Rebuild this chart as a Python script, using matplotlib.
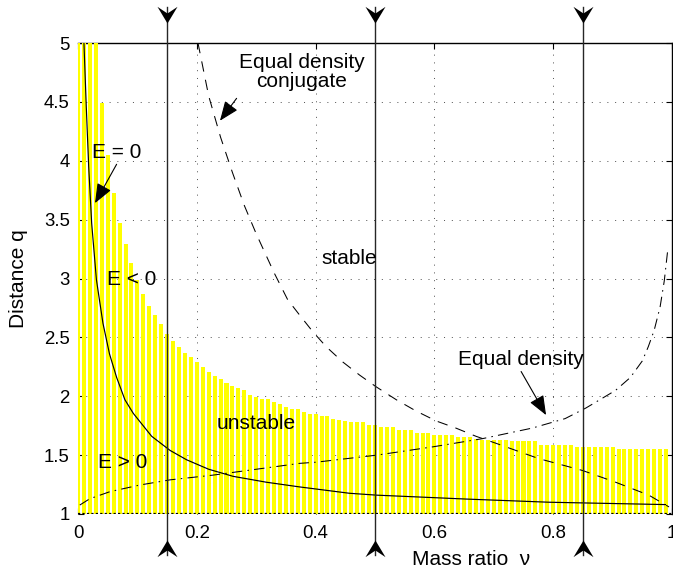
import numpy as np
import matplotlib
matplotlib.use("Agg")
import matplotlib.pyplot as plt
from matplotlib.path import Path

plt.rcParams['font.family'] = ['Liberation Sans', 'DejaVu Sans']

# bar heights (instability region), one bar every 0.01 in mass ratio
bar_nu = [k * 0.01 for k in range(100)]
bar_q = [5.0, 5.0, 5.0, 5.0, 4.49, 4.05, 3.73, 3.47, 3.29, 3.13,
         2.99, 2.87, 2.77, 2.69, 2.61, 2.53, 2.47, 2.42, 2.37, 2.33,
         2.29, 2.25, 2.21, 2.17, 2.15, 2.11, 2.09, 2.07, 2.05, 2.01,
         1.99, 1.98, 1.98, 1.95, 1.93, 1.91, 1.89, 1.89, 1.87, 1.85,
         1.85, 1.83, 1.83, 1.81, 1.80, 1.79, 1.78, 1.78, 1.78, 1.76,
         1.76, 1.74, 1.74, 1.74, 1.71, 1.71, 1.71, 1.69, 1.69, 1.69,
         1.67, 1.67, 1.67, 1.67, 1.65, 1.65, 1.65, 1.64, 1.63, 1.63,
         1.63, 1.63, 1.63, 1.62, 1.62, 1.62, 1.62, 1.62, 1.59, 1.59,
         1.59, 1.59, 1.59, 1.59, 1.57, 1.57, 1.57, 1.57, 1.57, 1.57,
         1.57, 1.55, 1.55, 1.55, 1.55, 1.55, 1.55, 1.55, 1.55, 1.55]

# E = 0 curve
e0_nu = [0.010, 0.014, 0.018, 0.023, 0.031, 0.042, 0.053, 0.065, 0.079, 0.093,
         0.124, 0.155, 0.183, 0.22, 0.261, 0.317, 0.373, 0.457, 0.503, 0.653,
         0.793, 0.989]
e0_q = [5.0, 4.45, 3.95, 3.47, 2.99, 2.62, 2.36, 2.16, 1.97, 1.855,
        1.66, 1.54, 1.46, 1.38, 1.32, 1.27, 1.23, 1.176, 1.16, 1.127,
        1.10, 1.08]

# equal density conjugate (dashed)
conj_nu = [0.202, 0.22, 0.24, 0.26, 0.28, 0.30, 0.33, 0.353, 0.373, 0.395,
           0.418, 0.446, 0.474, 0.502, 0.536, 0.569, 0.603, 0.636, 0.67,
           0.704, 0.737, 0.776, 0.849, 0.905, 0.961, 0.995]
conj_q = [5.0, 4.55, 4.2, 3.9, 3.62, 3.38, 3.05, 2.82, 2.69, 2.55,
          2.42, 2.29, 2.18, 2.08, 1.97, 1.875, 1.79, 1.73, 1.66,
          1.60, 1.54, 1.47, 1.37, 1.27, 1.16, 1.06]

# equal density (dash-dot)
eq_nu = [0.003, 0.02, 0.054, 0.104, 0.155, 0.227, 0.30, 0.373, 0.401, 0.503,
         0.597, 0.681, 0.765, 0.82, 0.855, 0.905, 0.93, 0.95, 0.96, 0.97,
         0.98, 0.987, 0.993]
eq_q = [1.076, 1.13, 1.19, 1.246, 1.29, 1.33, 1.38, 1.43, 1.44, 1.50,
        1.57, 1.64, 1.73, 1.81, 1.90, 2.05, 2.16, 2.30, 2.42, 2.56,
        2.76, 2.98, 3.25]

cuts = [0.15, 0.5, 0.85]

fig = plt.figure(figsize=(6.73, 5.71), dpi=100)
ax = fig.add_axes([78 / 673, 57 / 571, 594 / 673, 471 / 571])

ax.bar(bar_nu, [h - 1 for h in bar_q], bottom=1, width=0.0068,
       color=(1, 1, 0), linewidth=0, zorder=3)

ax.plot(e0_nu, e0_q, color='k', lw=0.85, zorder=5)
ax.plot(conj_nu, conj_q, color='k', lw=0.75, dashes=(10, 8), zorder=5)
ax.plot(eq_nu, eq_q, color='k', lw=0.75, dashes=(10, 5, 1.5, 5), zorder=5)

head_down = Path([(0, 0), (-0.6, 1), (0, 0.6), (0.6, 1), (0, 0)],
                 [Path.MOVETO, Path.LINETO, Path.LINETO, Path.LINETO, Path.CLOSEPOLY])
head_up = Path([(0, 0), (-0.6, -1), (0, -0.6), (0.6, -1), (0, 0)],
               [Path.MOVETO, Path.LINETO, Path.LINETO, Path.LINETO, Path.CLOSEPOLY])
for c in cuts:
    ax.plot([c, c], [5.306, 0.652], color='0.15', lw=1.0, clip_on=False, zorder=6)
    ax.plot([c], [5.17], marker=head_down, ms=24, color='k', mew=0,
            clip_on=False, zorder=7)
    ax.plot([c], [0.779], marker=head_up, ms=24, color='k', mew=0,
            clip_on=False, zorder=7)

ax.axhline(1, color='k', lw=1.6, ls=(0, (1, 1)), zorder=4)

arrow = dict(arrowstyle='-|>,head_length=0.8,head_width=0.32', color='k',
             lw=0.8, mutation_scale=15, shrinkA=0, shrinkB=0)
fs = 15
ax.text(0.065, 4.07, 'E = 0', fontsize=fs, ha='center', va='center', zorder=8)
ax.annotate('', xy=(0.0286, 3.64), xytext=(0.065, 3.97), arrowprops=arrow)
ax.text(0.09, 2.99, 'E < 0', fontsize=fs, ha='center', va='center', zorder=8)
ax.text(0.076, 1.44, 'E > 0', fontsize=fs, ha='center', va='center', zorder=8)
ax.text(0.30, 1.77, 'unstable', fontsize=fs, ha='center', va='center', zorder=8)
ax.text(0.456, 3.17, 'stable', fontsize=fs, ha='center', va='center', zorder=8)
ax.text(0.377, 4.75, 'Equal density\nconjugate', fontsize=fs, ha='center',
        va='center', linespacing=1.0, zorder=8)
ax.annotate('', xy=(0.239, 4.34), xytext=(0.267, 4.53), arrowprops=arrow)
ax.text(0.745, 2.31, 'Equal density', fontsize=fs, ha='center', va='center', zorder=8)
ax.annotate('', xy=(0.788, 1.84), xytext=(0.746, 2.21), arrowprops=arrow)

ax.set_xlim(0, 1)
ax.set_ylim(1, 5)
ax.set_xticks([0, 0.2, 0.4, 0.6, 0.8, 1])
ax.set_xticklabels(['0', '0.2', '0.4', '0.6', '0.8', '1'])
ax.set_yticks([1, 1.5, 2, 2.5, 3, 3.5, 4, 4.5, 5])
ax.set_yticklabels(['1', '1.5', '2', '2.5', '3', '3.5', '4', '4.5', '5'])
ax.tick_params(direction='in', length=4, width=0.8, labelsize=13.4,
               top=True, right=True, pad=6)
ax.tick_params(axis='x', pad=8)
ax.grid(True, color='0.3', lw=0.7, ls=(0, (1, 7)), zorder=1)
ax.set_axisbelow(True)

for side in ['left', 'bottom']:
    ax.spines[side].set_visible(False)
ax.spines['top'].set_linewidth(1.0)
ax.spines['right'].set_linewidth(1.0)

ax.set_xlabel('Mass ratio  ν', fontsize=15)
ax.xaxis.set_label_coords(0.662, -0.076)
ax.set_ylabel('Distance q', fontsize=15)
ax.yaxis.set_label_coords(-0.084, 0.5)

fig.savefig('out.png', dpi=100)
